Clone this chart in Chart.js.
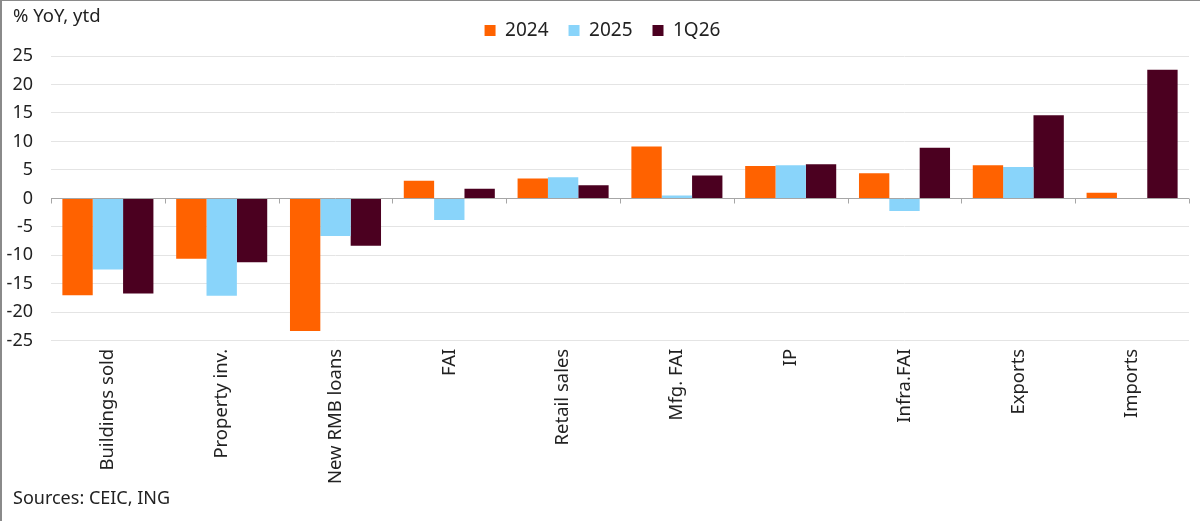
<!DOCTYPE html>
<html>
<head>
<meta charset="utf-8">
<script src="https://cdn.jsdelivr.net/npm/chart.js@4.4.1/dist/chart.umd.min.js"></script>
<style>
  html, body { margin: 0; padding: 0; background: #fff; overflow: hidden; }
  #wrap { position: relative; width: 1200px; height: 521px; }
  canvas { display: block; position: absolute; left: 0; top: 0; }
  .bl { position: absolute; left: 0; top: 0; width: 2px; height: 521px; background: #8a8a8a; }
  .bt { position: absolute; left: 0; top: 0; width: 1200px; height: 1px; background: #8a8a8a; }
  .txt { position: absolute; font-family: "Noto Sans", "Open Sans", sans-serif; font-size: 18px; color: #222; white-space: nowrap; }
</style>
</head>
<body>
<div id="wrap">
  <canvas id="c" width="1200" height="521"></canvas>
  <div class="bl"></div>
  <div class="bt"></div>
  <div class="txt" style="left:13px; top:2px; font-size:18.5px;">% YoY, ytd</div>
  <div class="txt" style="left:13px; top:485px;">Sources: CEIC, ING</div>
</div>
<script>
const categories = ["Buildings sold", "Property inv.", "New RMB loans", "FAI", "Retail sales", "Mfg. FAI", "IP", "Infra.FAI", "Exports", "Imports"];
const series2024 = [-17.0, -10.6, -23.3, 3.1, 3.5, 9.1, 5.7, 4.4, 5.8, 1.0];
const series2025 = [-12.5, -17.1, -6.6, -3.8, 3.7, 0.5, 5.8, -2.2, 5.5, null];
const series1Q26 = [-16.7, -11.2, -8.3, 1.7, 2.3, 4.0, 6.0, 8.9, 14.6, 22.6];
const yTicks = [25, 20, 15, 10, 5, 0, -5, -10, -15, -20, -25];

const FONT = "'Noto Sans', 'Open Sans', sans-serif";

const zeroAxisPlugin = {
  id: 'zeroAxis',
  afterLayout(chart) {
    const lg = chart.legend;
    if (lg) { lg.left += 8; lg.right += 8; lg.top -= 6; lg.bottom -= 6; }
  },
  afterDatasetsDraw(chart) {
    const { ctx, chartArea, scales } = chart;
    const y0 = Math.round(scales.y.getPixelForValue(0)) + 0.5;
    ctx.save();
    ctx.strokeStyle = '#a6a6a6';
    ctx.lineWidth = 1;
    ctx.beginPath();
    ctx.moveTo(chartArea.left, y0);
    ctx.lineTo(chartArea.right, y0);
    const n = categories.length;
    for (let i = 0; i <= n; i++) {
      const x = Math.round(scales.x.getPixelForValue(i - 0.5)) + 0.5;
      ctx.moveTo(x, y0);
      ctx.lineTo(x, y0 + 5);
    }
    ctx.stroke();
    ctx.restore();
  }
};

new Chart(document.getElementById('c'), {
  type: 'bar',
  data: {
    labels: categories,
    datasets: [
      { label: '2024', data: series2024, backgroundColor: '#FF6200' },
      { label: '2025', data: series2025, backgroundColor: '#89D4FA' },
      { label: '1Q26', data: series1Q26, backgroundColor: '#4B0020' }
    ]
  },
  options: {
    responsive: false,
    animation: false,
    devicePixelRatio: 1,
    layout: { padding: { left: 0, right: 11, top: 7, bottom: 29 } },
    datasets: { bar: { categoryPercentage: 0.8, barPercentage: 1.0 } },
    plugins: {
      legend: {
        position: 'top',
        align: 'center',
        labels: {
          boxWidth: 11, boxHeight: 11, padding: 20,
          color: '#222',
          font: { family: FONT, size: 19 }
        }
      },
      tooltip: { enabled: false }
    },
    scales: {
      x: {
        grid: { display: false, drawTicks: false },
        border: { display: false },
        ticks: {
          minRotation: 90, maxRotation: 90, padding: 8,
          color: '#222',
          font: { family: FONT, size: 18.5 }
        }
      },
      y: {
        min: -25, max: 25,
        afterFit(scale) { scale.width = 51; },
        afterBuildTicks(scale) { scale.ticks = yTicks.map(v => ({ value: v })); },
        grid: { color: '#e4e4e4', drawTicks: false },
        border: { display: false },
        ticks: {
          padding: 18,
          color: '#222',
          font: { family: FONT, size: 18 }
        }
      }
    }
  },
  plugins: [zeroAxisPlugin]
});
</script>
</body>
</html>
